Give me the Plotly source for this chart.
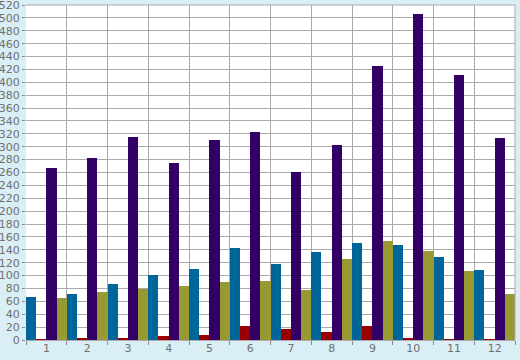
import plotly.graph_objects as go

categories = ["1", "2", "3", "4", "5", "6", "7", "8", "9", "10", "11", "12"]
blue_values = [67, 71, 87, 101, 110, 143, 118, 137, 151, 148, 129, 109]
red_values = [1, 3.5, 2, 6.5, 8, 21.5, 17, 12.5, 21.5, 3, 1.5, 0.5]
purple_values = [267, 283, 315, 275, 310, 323, 261, 303, 425, 506, 411, 314]
olive_values = [65, 74.5, 79, 84, 90, 91.5, 77.5, 125.5, 153.5, 138, 107, 71]
y_ticks = list(range(0, 521, 20))

series = [
    ("Blue", blue_values, "#006699"),
    ("Red", red_values, "#990000"),
    ("Purple", purple_values, "#330066"),
    ("Olive", olive_values, "#999933"),
]

fig = go.Figure()
for name, vals, color in series:
    fig.add_trace(go.Bar(x=categories, y=vals, name=name,
                         marker=dict(color=color, line=dict(width=0))))

font = dict(family="DejaVu Sans", size=11, color="#707070")
fig.update_layout(
    width=520, height=360,
    margin=dict(l=26, r=5, t=5, b=20, autoexpand=False),
    paper_bgcolor="#DAEEF6",
    plot_bgcolor="#FFFFFF",
    barmode="group", bargap=0, bargroupgap=0,
    showlegend=False,
    font=font,
    xaxis=dict(type="category", tickson="boundaries", showgrid=True,
               gridcolor="#AAAAAA", gridwidth=1, ticks="outside",
               ticklen=4, tickcolor="#888888", tickfont=font,
               showline=False, mirror=False, automargin=False,
               ticklabelstandoff=0, ticklabeloverflow="allow"),
    yaxis=dict(range=[0, 520], tickvals=y_ticks, showgrid=True,
               gridcolor="#AAAAAA", gridwidth=1, ticks="outside",
               ticklen=3, tickcolor="#888888", tickfont=font,
               zeroline=True, zerolinecolor="#AAAAAA", zerolinewidth=1,
               showline=False, automargin=False, ticklabelstandoff=0,
               ticklabeloverflow="allow"),
)
fig.add_shape(type="line", xref="paper", yref="paper", x0=1, x1=1, y0=0, y1=1,
              line=dict(color="#AAAAAA", width=1))
fig.add_shape(type="line", xref="paper", yref="paper", x0=0, x1=1, y0=1, y1=1,
              line=dict(color="#AAAAAA", width=1))
fig.write_html(
    "out.html",
    config={"displayModeBar": False},
    post_script="document.body.style.margin='0px';document.body.style.overflow='hidden';",
)
